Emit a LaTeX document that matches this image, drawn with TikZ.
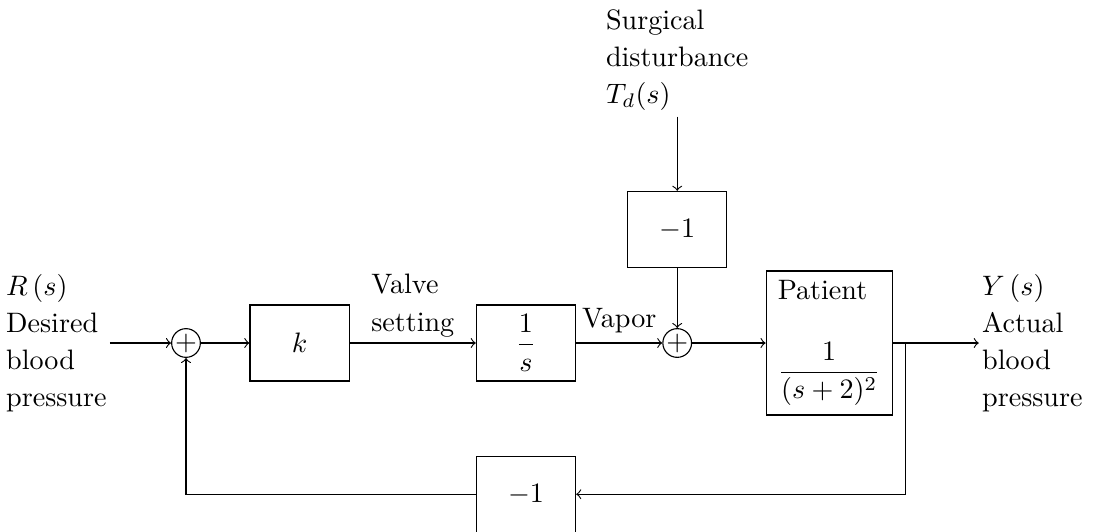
\documentclass[tikz,border=0pt]{standalone}
\usepackage{amsmath}
\begin{document}
\begin{tikzpicture}[>=to,
  block/.style={draw, minimum width=1.24cm, minimum height=0.95cm},
  sum/.style={draw, circle, inner sep=0pt},
  sig/.style={align=left, inner sep=1pt, font=\fontsize{10}{13.2}\selectfont}]
\useasboundingbox (-2.325,-2.35) rectangle (11.4,4.2875);

\node[sum] (s1) at (0,0) {$+$};
\node[block] (k) at (1.42,0) {$k$};
\node[block] (integ) at (4.25,0) {$\dfrac{1}{s}$};
\node[sum] (s2) at (6.14,0) {$+$};
\node[block, align=left, minimum width=1.575cm, minimum height=1.775cm] (patient) at (8.04,0)
  {Patient\\[14pt]$\dfrac{1}{(s+2)^2}$};
\node[block] (dgain) at (6.14,1.42) {$-1$};
\node[block] (fgain) at (4.25,-1.89) {$-1$};

\node[sig, anchor=east] (rlab) at (-0.95,0) {$R\left(s\right)$\\Desired\\blood\\pressure};
\node[sig, anchor=west] (ylab) at (9.91,0) {$Y\left(s\right)$\\Actual\\blood\\pressure};
\node[sig, inner sep=2pt, anchor=south] (dist) at (6.14,2.83) {Surgical\\disturbance\\$T_d(s)$};
\coordinate (branch) at (8.99,0);

\draw[->] (rlab.east) -- (s1);
\draw[->] (s1) -- (k);
\draw[->] (k) -- node[sig, inner sep=2pt, above] (valve) {Valve\\setting} (integ);
\draw[->] (integ) -- node[above] (vapor) {Vapor} (s2);
\draw[->] (s2) -- (patient);
\draw[->] (patient.east) -- (ylab.west);
\draw[->] (dist) -- (dgain);
\draw[->] (dgain) -- (s2);
\draw[->] (branch) |- (fgain);
\draw[->] (fgain) -| (s1);
\end{tikzpicture}
\end{document}
